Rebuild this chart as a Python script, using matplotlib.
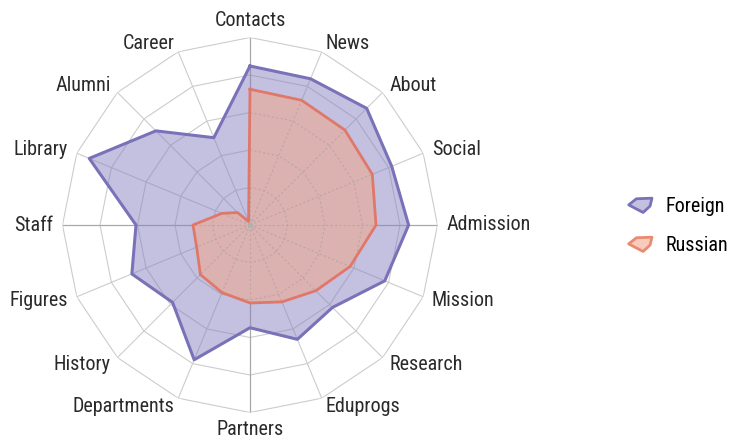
import numpy as np
import matplotlib
matplotlib.use("Agg")
import matplotlib.pyplot as plt
from matplotlib.lines import Line2D
from matplotlib.path import Path

categories = ["Contacts", "News", "About", "Social", "Admission", "Mission",
              "Research", "Eduprogs", "Partners", "Departments", "History",
              "Figures", "Staff", "Library", "Alumni", "Career"]
foreign = [4.24, 4.22, 4.40, 4.09, 4.23, 3.89, 3.11, 3.30, 2.74, 3.89, 2.92,
           3.41, 3.04, 4.64, 3.55, 2.52]
russian = [3.62, 3.60, 3.58, 3.53, 3.36, 2.89, 2.48, 2.22, 2.08, 1.95, 1.87,
           1.54, 1.52, 0.81, 0.47, 0.10]
series_names = ["Foreign", "Russian"]
ring_levels = [1, 2, 3, 4, 5]

plt.rcParams['font.family'] = ['Roboto Condensed', 'Liberation Sans Narrow',
                               'DejaVu Sans']

W, H = 733, 438
fig = plt.figure(figsize=(W / 100, H / 100), dpi=100)
cx, cy, R = 250, 225, 187.5
ax = fig.add_axes([(cx - R) / W, (H - cy - R) / H, 2 * R / W, 2 * R / H],
                  projection="polar")
ax.set_theta_offset(np.pi / 2)
ax.set_theta_direction(-1)
ax.set_ylim(0, 5)
ax.axis("off")

n = len(categories)
theta = np.arange(n) * 2 * np.pi / n
tc = np.append(theta, theta[0])

grid_col = "#cccccc"
for lvl in ring_levels:
    ax.plot(tc, [lvl] * (n + 1), color=grid_col, lw=0.8, zorder=1)
for i, t in enumerate(theta):
    col = "#a8a8a8" if i % 4 == 0 else grid_col
    ax.plot([t, t], [0, 5], color=col, lw=0.9 if i % 4 == 0 else 0.8, zorder=1)

purple_line = "#7a72b8"
purple_fill = "#8a84c2"
red_line = "#e0786a"

fv = np.append(foreign, foreign[0])
rv = np.append(russian, russian[0])
ax.fill(tc, fv, color=purple_fill, alpha=0.5, lw=0, zorder=2)
ax.plot(tc, fv, color=purple_line, lw=2.2, zorder=5)
rpoly = ax.fill(tc, rv, color="#dcb2b1", alpha=1.0, lw=0, zorder=3)[0]

for lvl in ring_levels:
    l, = ax.plot(tc, [lvl] * (n + 1), color="#bda4a4", lw=0.8, ls=(0, (2, 2)), zorder=4)
    l.set_clip_path(rpoly)
for i, t in enumerate(theta):
    l, = ax.plot([t, t], [0, 5], color="#bda4a4", lw=0.8, ls=(0, (2, 2)), zorder=4)
    l.set_clip_path(rpoly)
ax.plot(tc, rv, color=red_line, lw=2.0, zorder=6)
ax.plot([0], [0], "o", color="#b0b0b0", ms=3, zorder=7)

for t, lab in zip(theta, categories):
    s, c = np.sin(t), np.cos(t)
    if s > 0.1:
        ha = "left"
    elif s < -0.1:
        ha = "right"
    else:
        ha = "center"
    r = 5.25 if abs(s) > 0.1 else 5.45
    ax.text(t, r, lab, ha=ha, va="center", fontsize=14.5, color="#2a2a2a")

mk = Path([(-1.0, 0.05), (-0.35, 0.57), (0.97, 0.62), (0.81, -0.05),
           (0.22, -0.59), (-1.0, 0.05)],
          [Path.MOVETO, Path.LINETO, Path.LINETO, Path.LINETO, Path.LINETO,
           Path.CLOSEPOLY])
handles = [
    Line2D([], [], ls="none", marker=mk, ms=17, mfc="#c4c1e0",
           mec=purple_line, mew=2),
    Line2D([], [], ls="none", marker=mk, ms=17, mfc="#f8cbbd",
           mec="#ea8a72", mew=2),
]
fig.legend(handles, series_names, loc="center left",
           bbox_to_anchor=(607 / W, 1 - 226 / H), frameon=False,
           fontsize=14.5, handletextpad=0.5, labelspacing=0.95,
           handlelength=1.5)

fig.savefig("out.png", dpi=100)
